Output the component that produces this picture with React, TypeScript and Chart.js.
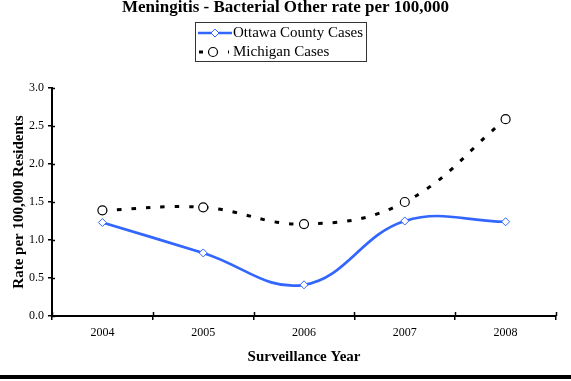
import React, { useEffect, useRef } from "react";
import { Chart, registerables } from "chart.js";

Chart.register(...registerables);

const years = ["2004", "2005", "2006", "2007", "2008"];
const ottawaCases = [1.23, 0.83, 0.41, 1.25, 1.24];
const michiganCases = [1.39, 1.43, 1.21, 1.5, 2.59];
const chartTitle = "Meningitis - Bacterial Other rate per 100,000";
const ottawaLabel = "Ottawa County Cases";
const michiganLabel = "Michigan Cases";
const xTitle = "Surveillance Year";
const yTitle = "Rate per 100,000 Residents";

const BLUE = "#3366FF";
const FONT = "'Liberation Serif', 'Times New Roman', serif";

const decorPlugin = {
  id: "decor",
  afterDraw(chart: any) {
    const ctx = chart.ctx;
    const area = chart.chartArea;
    ctx.save();
    // title, centred on the whole picture
    ctx.fillStyle = "#000";
    ctx.font = `bold 17px ${FONT}`;
    ctx.textAlign = "center";
    ctx.textBaseline = "alphabetic";
    ctx.fillText(chartTitle, chart.width / 2, 12);

    // inner parts of the axis tick marks (ticks cross the axes)
    ctx.strokeStyle = "#000";
    ctx.lineWidth = 1.5;
    const ys = chart.scales.y;
    ys.ticks.forEach((_t: any, i: number) => {
      const py = Math.round(ys.getPixelForTick(i)) + 0.5;
      ctx.beginPath();
      ctx.moveTo(area.left, py);
      ctx.lineTo(area.left + 3, py);
      ctx.stroke();
    });
    const xs = chart.scales.x;
    const n = xs.ticks.length;
    for (let i = 0; i <= n; i++) {
      const px = Math.round(xs.getPixelForValue(i - 0.5)) + 0.5;
      ctx.beginPath();
      ctx.moveTo(px, area.bottom);
      ctx.lineTo(px, area.bottom - 4);
      ctx.stroke();
    }

    // legend box
    ctx.strokeStyle = "#333";
    ctx.lineWidth = 1;
    ctx.strokeRect(195.5, 22.5, 171, 39);
    // row 1
    ctx.strokeStyle = BLUE;
    ctx.lineWidth = 2.5;
    ctx.beginPath();
    ctx.moveTo(198, 33);
    ctx.lineTo(232, 33);
    ctx.stroke();
    ctx.fillStyle = "#fff";
    ctx.lineWidth = 1;
    ctx.beginPath();
    ctx.moveTo(215, 29);
    ctx.lineTo(219, 33);
    ctx.lineTo(215, 37);
    ctx.lineTo(211, 33);
    ctx.closePath();
    ctx.fill();
    ctx.stroke();
    // row 2
    ctx.fillStyle = "#000";
    ctx.fillRect(199, 50.5, 4, 3);
    ctx.fillRect(228, 50.5, 1, 3);
    ctx.strokeStyle = "#000";
    ctx.fillStyle = "#fff";
    ctx.lineWidth = 1.2;
    ctx.beginPath();
    ctx.arc(213, 52, 4.5, 0, Math.PI * 2);
    ctx.fill();
    ctx.stroke();
    // texts
    ctx.fillStyle = "#000";
    ctx.font = `15px ${FONT}`;
    ctx.textAlign = "left";
    ctx.textBaseline = "middle";
    ctx.fillText(ottawaLabel, 233, 33);
    ctx.fillText(michiganLabel, 233, 52);
    // bottom rule
    ctx.fillStyle = "#000";
    ctx.fillRect(0, 375, 571, 4);
    ctx.restore();
  },
};

export default function App() {
  const ref = useRef<HTMLCanvasElement | null>(null);
  useEffect(() => {
    document.body.style.margin = "0";
    const chart = new Chart(ref.current as HTMLCanvasElement, {
      type: "line",
      data: {
        labels: years,
        datasets: [
          {
            label: ottawaLabel,
            data: ottawaCases,
            borderColor: BLUE,
            backgroundColor: "#fff",
            borderWidth: 2.7,
            tension: 0.4,
            pointStyle: "rectRot",
            pointRadius: 4,
            pointBorderWidth: 1,
            pointBorderColor: BLUE,
            pointBackgroundColor: "#fff",
          },
          {
            label: michiganLabel,
            data: michiganCases,
            borderColor: "#000",
            backgroundColor: "#fff",
            borderWidth: 3,
            borderDash: [4.5, 10],
            tension: 0.4,
            pointStyle: "circle",
            pointRadius: 4.5,
            pointBorderWidth: 1.2,
            pointBorderColor: "#000",
            pointBackgroundColor: "#fff",
          },
        ],
      },
      options: {
        responsive: false,
        animation: false,
        layout: { padding: { left: 0, right: 15, top: 88, bottom: 0 } },
        plugins: {
          legend: { display: false },
          tooltip: { enabled: false },
          title: { display: false },
        },
        scales: {
          x: {
            offset: true,
            grid: {
              offset: true,
              drawOnChartArea: false,
              drawTicks: true,
              tickLength: 4,
              color: "#000",
              lineWidth: 1.5,
            },
            border: { color: "#000", width: 2 },
            ticks: {
              color: "#000",
              font: { family: FONT, size: 12 },
              padding: 6,
            },
            title: {
              display: true,
              text: xTitle,
              color: "#000",
              font: { family: FONT, size: 15, weight: "bold" },
              padding: { top: 4, bottom: 15 },
            },
            afterFit(scale: any) {
              scale.height = 65;
            },
          },
          y: {
            min: 0,
            max: 3,
            grid: {
              drawOnChartArea: false,
              drawTicks: true,
              tickLength: 4,
              color: "#000",
              lineWidth: 1.5,
            },
            border: { color: "#000", width: 2 },
            ticks: {
              stepSize: 0.5,
              color: "#000",
              font: { family: FONT, size: 12 },
              padding: 4,
              callback: (v: any) => Number(v).toFixed(1),
            },
            title: {
              display: true,
              text: yTitle,
              color: "#000",
              font: { family: FONT, size: 15, weight: "bold" },
              padding: { top: 10, bottom: 0 },
            },
            afterFit(scale: any) {
              scale.width = 52;
            },
          },
        },
      },
      plugins: [decorPlugin],
    });
    return () => chart.destroy();
  }, []);
  return <canvas ref={ref} width={571} height={381} style={{ display: "block" }} />;
}
